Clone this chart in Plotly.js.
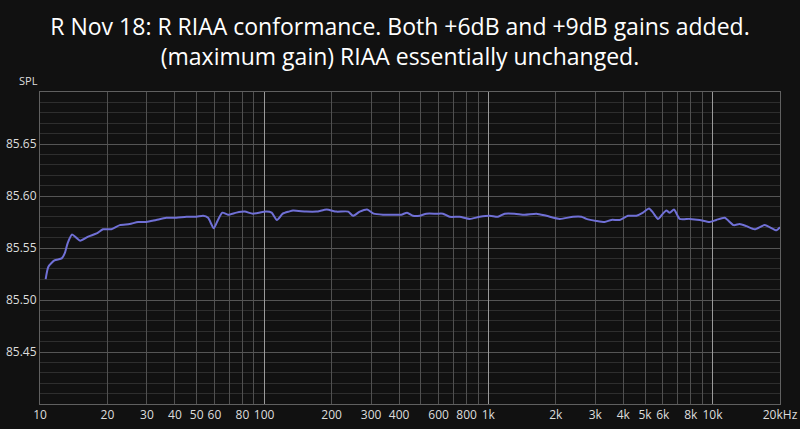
<!DOCTYPE html>
<html>
<head>
<meta charset="utf-8">
<script src="https://cdn.plot.ly/plotly-3.0.1.min.js"></script>
<style>
  html, body { margin: 0; padding: 0; background: #111111; }
  #chart { width: 800px; height: 429px; }
</style>
</head>
<body>
<div id="chart"></div>
<script>
var freq = [10.6, 10.9, 11.6, 12.5, 12.9, 13.3, 13.9, 14.5, 15.1, 16.4, 17.9, 19.1, 20.8, 22.7, 25.1, 27.4, 29.8, 33.0, 36.6, 40.6,
  45.0, 49.9, 53.4, 56.2, 59.6, 62.2, 65.1, 69.0, 75.2, 81.9, 89.1, 102, 108, 114, 121, 129, 134.5, 154, 171, 190,
  210, 237, 249, 267, 288, 308, 339, 376, 409, 434, 461, 494, 529, 586, 628, 672, 745, 826, 915, 1014,
  1104, 1183, 1311, 1452, 1638, 1815, 2081, 2386, 2601, 2737, 3033, 3304, 3539, 3855, 4198, 4576, 4898, 5208, 5425, 5710,
  5951, 6224, 6442, 6733, 7137, 7907, 8762, 9708, 10400, 11330, 12430, 13220, 14160, 15420, 17090, 19280, 20000];

var spl = [85.520, 85.532, 85.538, 85.540, 85.545, 85.555, 85.563, 85.560, 85.557, 85.561, 85.564, 85.568, 85.568, 85.572, 85.573, 85.575, 85.575, 85.577, 85.579, 85.579,
  85.580, 85.580, 85.581, 85.579, 85.569, 85.577, 85.584, 85.582, 85.584, 85.585, 85.583, 85.585, 85.584, 85.577, 85.583, 85.585, 85.586, 85.585, 85.585, 85.587,
  85.585, 85.585, 85.581, 85.585, 85.587, 85.583, 85.582, 85.582, 85.582, 85.584, 85.581, 85.581, 85.583, 85.583, 85.583, 85.580, 85.580, 85.578, 85.580, 85.581,
  85.580, 85.583, 85.583, 85.582, 85.583, 85.581, 85.578, 85.580, 85.580, 85.578, 85.576, 85.575, 85.577, 85.577, 85.581, 85.581, 85.584, 85.588, 85.584, 85.578,
  85.582, 85.586, 85.584, 85.587, 85.578, 85.578, 85.577, 85.575, 85.577, 85.579, 85.572, 85.573, 85.571, 85.568, 85.572, 85.567, 85.570];

// x grid lines and their labels (blank = line only)
var xTicks = [10, 20, 30, 40, 50, 60, 70, 80, 90, 100, 200, 300, 400, 500, 600, 700, 800, 900,
  1000, 2000, 3000, 4000, 5000, 6000, 7000, 8000, 9000, 10000, 20000];
var xLabels = ['10', '20', '30', '40', '50', '60', '', '80', '', '100', '200', '300', '400', '', '600', '', '800', '',
  '1k', '2k', '3k', '4k', '5k', '6k', '', '8k', '', '10k', '20kHz'];
var decades = [10, 100, 1000, 10000];

var yTicks = [85.45, 85.50, 85.55, 85.60, 85.65];

var xRange = [1, Math.log10(20000)];
var font = 'Open Sans, Noto Sans, sans-serif';

var trace = {
  x: freq,
  y: spl,
  mode: 'lines',
  line: { color: '#7070d6', width: 2, shape: 'spline', smoothing: 0.6 },
  hoverinfo: 'x+y',
  type: 'scatter'
};

var layout = {
  width: 800,
  height: 429,
  paper_bgcolor: '#111111',
  plot_bgcolor: '#111111',
  margin: { l: 40, r: 20, t: 92, b: 25 },
  showlegend: false,
  title: {
    text: 'R Nov 18: R RIAA conformance. Both +6dB and +9dB gains added.<br>(maximum gain) RIAA essentially unchanged.',
    font: { family: font, size: 23, color: '#ffffff' },
    x: 0.5,
    xanchor: 'center',
    y: 0.918,
    yanchor: 'top'
  },
  xaxis: {
    type: 'log',
    range: xRange,
    tickvals: xTicks,
    ticktext: xLabels,
    tickangle: 0,
    ticks: '',
    showgrid: true,
    gridcolor: '#505050',
    gridwidth: 1,
    showline: true,
    linecolor: '#606060',
    mirror: true,
    zeroline: false,
    tickfont: { family: font, size: 12, color: '#dddddd' }
  },
  xaxis2: {
    type: 'log',
    range: xRange,
    overlaying: 'x',
    tickvals: decades,
    showticklabels: false,
    ticks: '',
    showgrid: true,
    gridcolor: '#9a9a9a',
    gridwidth: 1,
    zeroline: false
  },
  yaxis: {
    range: [85.40, 85.70],
    tickvals: yTicks,
    tickformat: '.2f',
    ticks: '',
    showgrid: true,
    gridcolor: '#555555',
    showline: true,
    linecolor: '#606060',
    mirror: true,
    zeroline: false,
    tickfont: { family: font, size: 12, color: '#dddddd' },
    minor: { dtick: 0.01, showgrid: true, gridcolor: '#2e2e2e', ticks: '' }
  },
  annotations: [{
    text: 'SPL',
    xref: 'paper', yref: 'paper',
    x: -0.016, y: 1.005,
    xanchor: 'center', yanchor: 'bottom',
    showarrow: false,
    font: { family: font, size: 11, color: '#dddddd' }
  }]
};

// empty trace keeps the decade grid axis alive
var decadeTrace = {
  x: decades,
  y: [85.40, 85.40, 85.40, 85.40],
  xaxis: 'x2',
  mode: 'markers',
  marker: { opacity: 0 },
  hoverinfo: 'skip',
  type: 'scatter'
};

Plotly.newPlot('chart', [decadeTrace, trace], layout, { displayModeBar: false });
</script>
</body>
</html>
